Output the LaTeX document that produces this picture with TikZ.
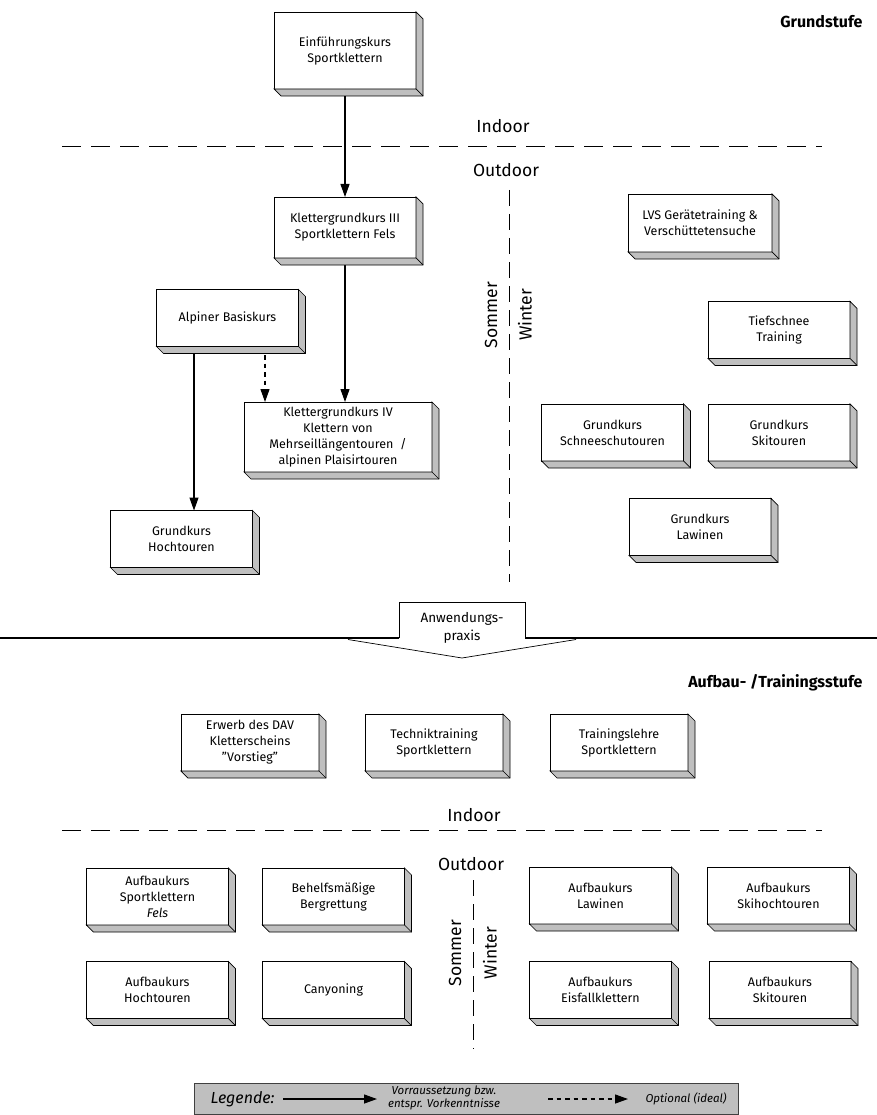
\documentclass[tikz,border=0pt]{standalone}
\usepackage{fontspec}
\setmainfont{Fira Sans}
\usetikzlibrary{arrows.meta}

\begin{document}
\begin{tikzpicture}[x=1pt,y=-1pt]

\tikzstyle{kurs} = [rectangle, draw=black, fill=white, line width=0.7pt, outer sep=0pt, inner sep=1pt,
  minimum width=142pt, minimum height=57pt, align=center, font=\fontsize{12.5}{16}\selectfont]
\tikzstyle{tiefe} = [draw=black, fill=black!25, line width=0.7pt, line join=miter]
\tikzstyle{ort} = [font=\fontsize{17.5}{20}\selectfont]
\tikzstyle{stufe} = [anchor=east, font=\fontsize{16}{19}\selectfont\bfseries]
\tikzstyle{grenze} = [line width=0.8pt, dash pattern=on 19pt off 10pt]
\tikzstyle{saison} = [line width=0.8pt, dash pattern=on 16pt off 8pt]
\tikzstyle{pfeil} = [line width=1.2pt, -{Triangle[length=13pt,width=9pt]}]
\tikzstyle{optional} = [pfeil, dash pattern=on 4.5pt off 4pt]
\tikzstyle{dick} = [line width=2.6pt]
\tikzstyle{legtext} = [align=center, font=\fontsize{11.5}{13.5}\selectfont\itshape]

\path[use as bounding box, fill=white] (0,0) rectangle (877,1115);

% Grundstufe
\node[stufe] (grund) at (866, 22) {Grundstufe};

\node[kurs, minimum height=77pt] (einf) at (345, 50.5) {Einführungskurs\\Sportklettern};

\node[ort] (indoor1) at (503, 126) {Indoor};
\coordinate (g1a) at (62, 146);
\coordinate (g1b) at (822, 146);
\draw[grenze] (g1a) -- (g1b);
\node[ort] (outdoor1) at (506, 170) {Outdoor};

\coordinate (s1a) at (509, 190);
\coordinate (s1b) at (509, 582);
\draw[saison] (s1a) -- (s1b);
\node[ort, rotate=90] (sommer1) at (491, 315) {Sommer};
\node[ort, rotate=90] (winter1) at (525, 315) {Winter};

\node[kurs, minimum height=61pt] (kg3) at (345, 227.5) {Klettergrundkurs III\\Sportklettern Fels};
\node[kurs] (alpin) at (227.5, 318) {Alpiner Basiskurs};
\node[kurs, minimum width=188pt, minimum height=70pt] (kg4) at (338, 437)
  {Klettergrundkurs IV\\Klettern von\\Mehrseillängentouren\ \ /\\alpinen Plaisirtouren};
\node[kurs] (gkht) at (181.5, 539) {Grundkurs\\Hochtouren};

\node[kurs, minimum width=144pt, minimum height=58pt] (lvs) at (700, 223) {LVS Gerätetraining \&\\Verschüttetensuche};
\node[kurs] (tief) at (779, 330) {Tiefschnee\\Training};
\node[kurs] (gkss) at (612.5, 432.5) {Grundkurs\\Schneeschutouren};
\node[kurs] (gkst) at (779, 432.5) {Grundkurs\\Skitouren};
\node[kurs] (gklw) at (700, 527) {Grundkurs\\Lawinen};

\draw[pfeil] (einf) -- (kg3);
\draw[pfeil] (kg3.south) -- (kg3.south |- kg4.north);
\draw[pfeil] ([xshift=-33.5pt]alpin.south) -- ([xshift=-33.5pt]alpin.south |- gkht.north);
\draw[optional] ([xshift=37.5pt]alpin.south) -- ([xshift=37.5pt]alpin.south |- kg4.north);

% Anwendungspraxis
\node[align=center, font=\fontsize{13.5}{18}\selectfont] (anw) at (462, 628) {Anwendungs-\\praxis};
\draw[dick] (0, 638) -- (399, 638);
\draw[dick] (525, 638) -- (877, 638);
\draw[line width=0.7pt] (399, 638) -- (399, 602) -- (525, 602) -- (525, 638);
\draw[line width=0.7pt] (348, 639.5) -- (462, 658) -- (576, 639.5);

% Aufbau- /Trainingsstufe
\node[stufe] (aufbau) at (866, 683) {Aufbau- /Trainingsstufe};

\node[kurs, minimum width=138pt] (erwerb) at (250, 742.5) {Erwerb des DAV\\Kletterscheins\\\symbol{34}Vorstieg\symbol{34}};
\node[kurs, minimum width=138pt] (technik) at (434, 742.5) {Techniktraining\\Sportklettern};
\node[kurs, minimum width=138pt] (lehre) at (619, 742.5) {Trainingslehre\\Sportklettern};

\node[ort] (indoor2) at (474, 815) {Indoor};
\coordinate (g2a) at (62, 830);
\coordinate (g2b) at (822, 830);
\draw[grenze] (g2a) -- (g2b);
\node[ort] (outdoor2) at (471, 864) {Outdoor};

\coordinate (s2a) at (473, 880);
\coordinate (s2b) at (473, 1049);
\draw[saison] (s2a) -- (s2b);
\node[ort, rotate=90] (sommer2) at (455, 953) {Sommer};
\node[ort, rotate=90] (winter2) at (490, 953) {Winter};

\node[kurs] (absk) at (157.5, 896.5) {Aufbaukurs\\Sportklettern\\\textit{Fels}};
\node[kurs] (bergr) at (333.5, 896.5) {Behelfsmäßige\\Bergrettung};
\node[kurs] (abht) at (157.5, 990) {Aufbaukurs\\Hochtouren};
\node[kurs] (canyon) at (333.5, 990) {Canyoning};

\node[kurs] (ablw) at (600.5, 895.5) {Aufbaukurs\\Lawinen};
\node[kurs] (abskh) at (778.5, 895.5) {Aufbaukurs\\Skihochtouren};
\node[kurs] (abeis) at (600.5, 990) {Aufbaukurs\\Eisfallklettern};
\node[kurs] (abskt) at (780, 990) {Aufbaukurs\\Skitouren};

% Tiefe der Kaesten
\foreach \k in {einf,kg3,alpin,kg4,gkht,lvs,tief,gkss,gkst,gklw,erwerb,technik,lehre,absk,bergr,abht,canyon,ablw,abskh,abeis,abskt}
{
  \filldraw[tiefe] (\k.south west) -- ++(7pt,-7pt) -- ([shift={(7pt,-7pt)}]\k.south east)
    -- ([shift={(7pt,-7pt)}]\k.north east) -- (\k.north east) -- (\k.south east) -- cycle;
  \draw[tiefe] (\k.south east) -- ++(7pt,-7pt);
}

% Legende
\node[draw=black!75, fill=black!25, line width=0.7pt, minimum width=544pt, minimum height=31pt] (leg) at (466, 1098.5) {};
\node[legtext, anchor=west, font=\fontsize{16}{18}\selectfont\itshape] (legende) at (207, 1099) {Legende:};
\coordinate (v1) at (283, 1099);
\coordinate (v2) at (377, 1099);
\draw[pfeil] (v1) -- (v2);
\node[legtext] (vor) at (444, 1098) {Vorraussetzung bzw.\\entspr. Vorkenntnisse};
\coordinate (o1) at (548, 1099);
\coordinate (o2) at (628, 1099);
\draw[optional] (o1) -- (o2);
\node[legtext, anchor=west] (opt) at (642, 1099) {Optional (ideal)};

\end{tikzpicture}
\end{document}
